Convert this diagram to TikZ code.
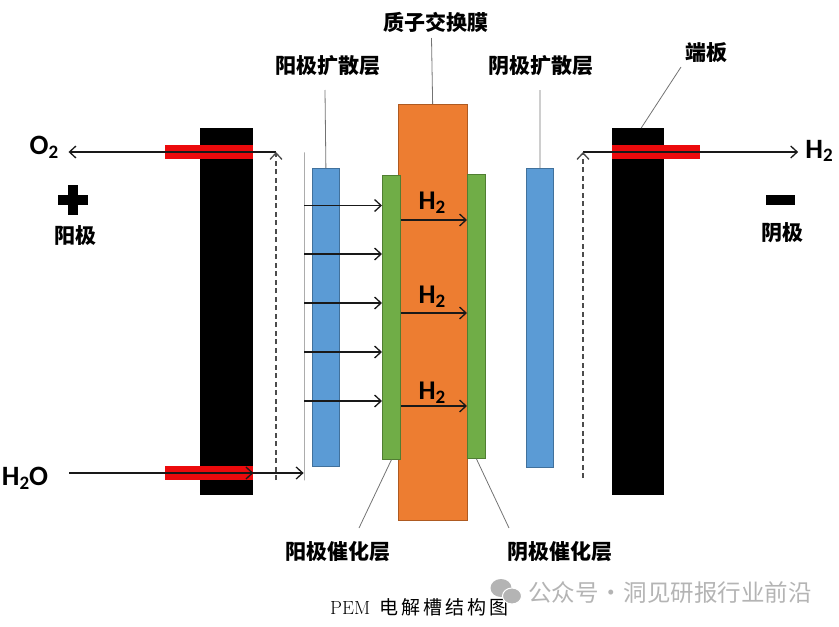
\documentclass[tikz,border=0pt]{standalone}
\usepackage{fontspec}
\setsansfont{Carlito}
\newfontfamily\cjk{Noto Sans CJK SC}
\newfontfamily\capcjk[LetterSpace=16]{Noto Sans CJK SC}
\usetikzlibrary{arrows.meta}
\definecolor{bluefill}{HTML}{5B9BD5}
\definecolor{blueedge}{HTML}{41719C}
\definecolor{greenfill}{HTML}{70AD47}
\definecolor{greenedge}{HTML}{507E32}
\definecolor{orangefill}{HTML}{ED7D31}
\definecolor{orangeedge}{HTML}{AE5A21}
\definecolor{redfill}{HTML}{EC0A0C}
\definecolor{markgrey}{HTML}{B4B4B4}
\tikzset{
	layer/.style={draw=#1edge, fill=#1fill, line width=0.8pt, inner sep=0pt, anchor=north west},
	plate/.style={fill=black, inner sep=0pt, anchor=north west},
	port/.style={fill=redfill, inner sep=0pt, anchor=north west},
	tag/.style={font=\cjk\fontsize{21}{23}\selectfont\bfseries, inner sep=0pt},
	gas/.style={font=\sffamily\fontsize{28}{30}\selectfont\bfseries, inner sep=0pt},
	leader/.style={draw=black!55, line width=0.8pt},
	flow/.style={-{Straight Barb[length=6.5pt,width=12pt]}, line width=1.3pt, draw=black!90},
	dashflow/.style={flow, dash pattern=on 5pt off 3.5pt, draw=black!70},
}
\newcommand{\subtwo}{\raisebox{-0.28ex}{\fontsize{19}{19}\selectfont 2}}
\begin{document}
\begin{tikzpicture}[x=1pt, y=-1pt, line cap=butt]
	\useasboundingbox (0,0) rectangle (839,627);

	% End plates and their red ports
	\node[plate, minimum width=53pt, minimum height=367pt] (plateL) at (200,128) {};
	\node[plate, minimum width=52pt, minimum height=367pt] (plateR) at (612,128) {};
	\node[port, minimum width=88pt, minimum height=14.5pt] (portLtop) at (165,144.5) {};
	\node[port, minimum width=88pt, minimum height=14.5pt] (portLbot) at (165,465.5) {};
	\node[port, minimum width=88pt, minimum height=14.5pt] (portR) at (612,144.5) {};

	% Layers of the cell
	\node[layer=blue, minimum width=27pt, minimum height=298pt] (diffA) at (312,168) {};
	\node[layer=blue, minimum width=27pt, minimum height=299pt] (diffC) at (526,168) {};
	\node[layer=orange, minimum width=69.5pt, minimum height=416pt] (membrane) at (397.5,104) {};
	\node[layer=green, minimum width=18pt, minimum height=284pt] (catA) at (382,175) {};
	\node[layer=green, minimum width=18pt, minimum height=284pt] (catC) at (467,174) {};

	% Thin wall on the anode side
	\node[draw=black!50, line width=0.8pt, inner sep=0pt, minimum width=0pt, minimum height=328pt, anchor=north] (wall) at (304,152) {};

	% Labels
	\node[tag] (lblMembrane) at (436,22) {质子交换膜};
	\node[tag] (lblDiffA) at (328,65.5) {阳极扩散层};
	\node[tag] (lblDiffC) at (540.5,66) {阴极扩散层};
	\node[tag] (lblPlate) at (706.5,53) {端板};
	\node[tag] (lblCatA) at (338,552) {阳极催化层};
	\node[tag] (lblCatC) at (560,552) {阴极催化层};
	\node[tag] (lblAnode) at (75,236) {阳极};
	\node[tag] (lblCathode) at (782,232.5) {阴极};
	\node[gas] (lblOtwo) at (44,147) {O\subtwo};
	\node[gas] (lblHtwoO) at (25,478) {H\subtwo O};
	\node[gas] (lblHtwo) at (819,151) {H\subtwo};

	% Plus and minus signs
	\fill (58,195) rectangle (88,205);
	\fill (68,185) rectangle (78,215);
	\fill (766,195) rectangle (795,205);

	% Leader lines
	\coordinate (tipMembrane) at (431.5,38);
	\coordinate (tipDiffA) at (325,90);
	\coordinate (tipDiffC) at (540,90);
	\coordinate (tipPlate) at (681,67);
	\coordinate (tipCatA) at (359,528);
	\coordinate (tipCatC) at (509,528);
	\draw[leader] (tipMembrane) -- (membrane.north);
	\draw[leader] (tipDiffA) -- (diffA.north);
	\draw[leader] (tipDiffC) -- (diffC.north);
	\draw[leader] (tipPlate) -- ([xshift=3pt]plateR.north);
	\draw[leader] (catA.south) -- (tipCatA);
	\draw[leader] (catC.south) -- (tipCatC);

	% Gas paths
	\coordinate (turnL) at (276,152);
	\coordinate (dashL) at (276,480);
	\coordinate (turnR) at (583,152);
	\coordinate (dashR) at (583,478);
	\draw[flow, shorten >=10pt] (turnL) -- (lblOtwo.east |- turnL);
	\draw[flow, shorten >=7pt] (turnR) -- (lblHtwo.west |- turnR);
	\draw[dashflow] (dashL) -- (turnL);
	\draw[dashflow] (dashR) -- (turnR);
	\draw[flow, shorten <=21pt] (lblHtwoO.east |- 0,473) -- (plateL.east |- 0,473);
	\draw[flow] (plateL.east |- 0,473) -- (wall.west |- 0,473);

	% Water through the anode, hydrogen through the membrane
	\foreach \y in {205.5,254,303,352,401}
		\draw[flow] (wall.east |- 0,\y) -- (catA.west |- 0,\y);
	\foreach \y/\name/\h in {220/a/203,313/b/297,406/c/393}{
		\draw[flow] (catA.east |- 0,\y) -- (catC.west |- 0,\y);
		\node[gas, font=\sffamily\fontsize{27}{29}\selectfont\bfseries] (lblProton\name) at (432,\h) {H\subtwo};
	}

	% Caption and mark
	\node[inner sep=0pt, anchor=west, font=\fontsize{19}{21}\selectfont] (caption) at (330,607) {PEM\hspace{9pt}\capcjk 电解槽结构图};
	\fill[markgrey] (501,588) ellipse (10.5pt and 9pt);
	\draw[markgrey, fill=markgrey, draw=white, line width=1pt] (512,596) ellipse (9.5pt and 8pt);
	\node[inner sep=0pt, anchor=west, text=markgrey, font=\cjk\fontsize{23.5}{25}\selectfont] (mark) at (528,593) {公众号\kern-4.5pt{} · \kern-4.5pt{}洞见研报行业前沿};
\end{tikzpicture}
\end{document}
